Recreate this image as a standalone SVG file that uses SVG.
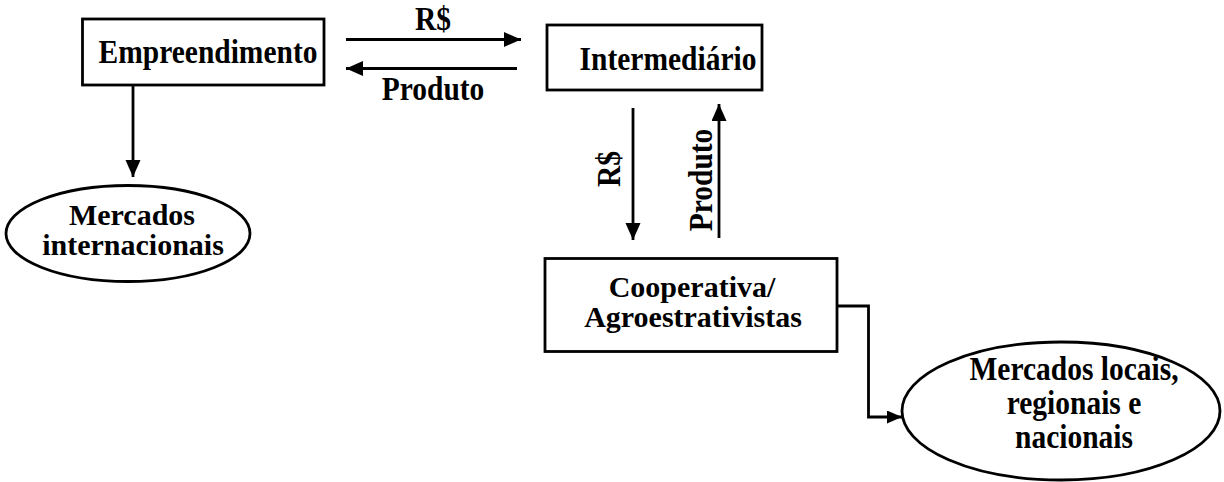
<svg xmlns="http://www.w3.org/2000/svg" width="1224" height="482" viewBox="0 0 1224 482">
<style>
.box{fill:#fff;stroke:#000;stroke-width:2.8}
.t{font-family:"Liberation Serif","Times New Roman",serif;font-weight:bold;font-size:29.5px;fill:#000;text-anchor:middle}
.s{font-size:30px}
.ln{fill:none;stroke:#000;stroke-width:2.8}
</style>
<defs>
<marker id="ah" markerUnits="userSpaceOnUse" markerWidth="18" markerHeight="16" refX="17" refY="7.5" orient="auto">
<path d="M0,0 L17,7.5 L0,15 z" fill="#000"/>
</marker>
<marker id="ahs" markerUnits="userSpaceOnUse" markerWidth="16" markerHeight="14" refX="15" refY="6.5" orient="auto">
<path d="M0,0 L15,6.5 L0,13 z" fill="#000"/>
</marker>
</defs>
<g id="connectors">
<line class="ln" x1="346" y1="39.5" x2="521" y2="39.5" marker-end="url(#ah)"/>
<line class="ln" x1="517" y1="68.5" x2="346" y2="68.5" marker-end="url(#ah)"/>
<line class="ln" x1="133" y1="85" x2="133" y2="177" marker-end="url(#ah)"/>
<line class="ln" x1="633" y1="108" x2="633" y2="240" marker-end="url(#ah)"/>
<line class="ln" x1="719" y1="238" x2="719" y2="104" marker-end="url(#ah)"/>
<polyline class="ln" points="837,306 868.5,306 868.5,417 902,417" marker-end="url(#ahs)"/>
<text class="t" transform="translate(433,30) scale(1,1.15)">R$</text>
<text class="t" transform="translate(433,100) scale(1,1.15)">Produto</text>
<text class="t" transform="translate(620,169) rotate(-90) scale(1,1.15)">R$</text>
<text class="t" transform="translate(712,180) rotate(-90) scale(1,1.15)">Produto</text>
</g>
<g id="empreendimento">
<rect class="box" x="82.5" y="19" width="241.5" height="66"/>
<text class="t" transform="translate(208,63) scale(1,1.15)">Empreendimento</text>
</g>
<g id="intermediario">
<rect class="box" x="547" y="25" width="215" height="65"/>
<text class="t" transform="translate(668,70) scale(1,1.15)">Intermediário</text>
</g>
<g id="mercados-internacionais">
<ellipse class="box" cx="128" cy="233.5" rx="122" ry="48"/>
<text class="t s" x="132" y="225">Mercados</text>
<text class="t s" x="133" y="255">internacionais</text>
</g>
<g id="cooperativa">
<rect class="box" x="545" y="258.5" width="292" height="93"/>
<text class="t s" x="692" y="297">Cooperativa/</text>
<text class="t s" x="693" y="327">Agroestrativistas</text>
</g>
<g id="mercados-locais">
<ellipse class="box" cx="1061" cy="411" rx="159" ry="69"/>
<text class="t" transform="translate(1074,380) scale(1,1.15)">Mercados locais,</text>
<text class="t" transform="translate(1074,414) scale(1,1.15)">regionais e</text>
<text class="t" transform="translate(1074,448) scale(1,1.15)">nacionais</text>
</g>
</svg>
